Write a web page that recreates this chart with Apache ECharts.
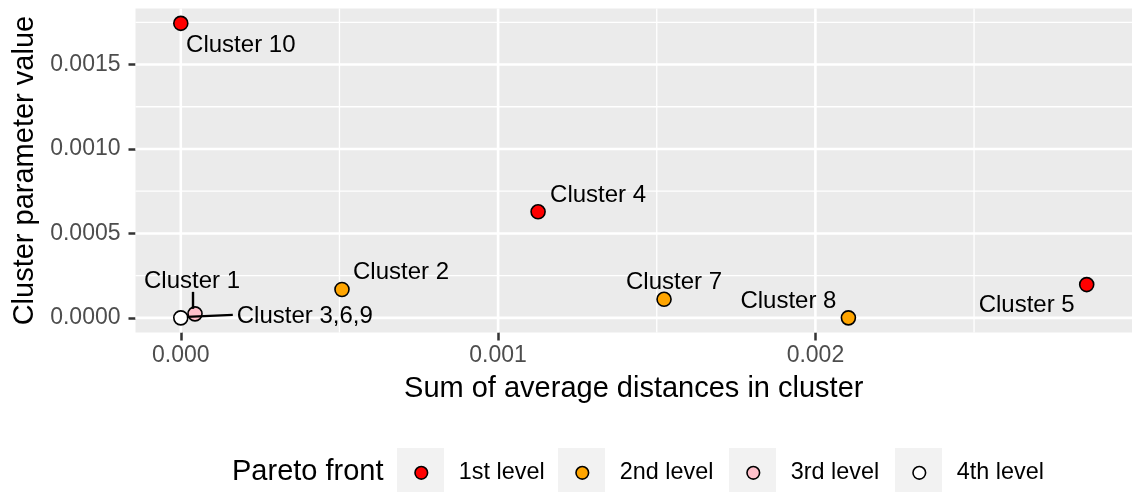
<!DOCTYPE html>
<html>
<head>
<meta charset="utf-8">
<script src="https://cdn.jsdelivr.net/npm/echarts@6/dist/echarts.min.js"></script>
<style>
html, body { margin: 0; padding: 0; background: #fff; }
#chart { width: 1132px; height: 492px; }
</style>
</head>
<body>
<div id="chart"></div>
<script>
// data
var clusterNames = ['Cluster 1', 'Cluster 2', 'Cluster 3,6,9', 'Cluster 4', 'Cluster 5', 'Cluster 7', 'Cluster 8', 'Cluster 10'];
var distSum = [0.0000448, 0.000508, 0, 0.001126, 0.002855, 0.001523, 0.002104, 0];
var paramValue = [0.0000237, 0.000168, 0, 0.000628, 0.000197, 0.000110, 0, 0.001744];
var paretoLevel = [3, 2, 4, 1, 1, 2, 2, 1];
var levelNames = ['1st level', '2nd level', '3rd level', '4th level'];

var xTicks = [0, 0.001, 0.002];
var xMinor = [0.0005, 0.0015, 0.0025];
var yTicks = [0, 0.0005, 0.0010, 0.0015];
var yMinor = [0.00025, 0.00075, 0.00125, 0.00175];

var levelColors = ['#FF0000', '#FFA500', '#FFC0CB', '#FFFFFF'];
var FONT = '"Liberation Sans", Arial, Helvetica, sans-serif';

// where each label sits relative to its point (px), as repel placed them
var labelOffset = {
	'Cluster 1': [-3, -32],
	'Cluster 2': [59, -17],
	'Cluster 3,6,9': [124, -1],
	'Cluster 4': [60, -16],
	'Cluster 5': [-60, 21],
	'Cluster 7': [10, -17],
	'Cluster 8': [-60, -16],
	'Cluster 10': [60, 22]
};
// repel segments: from/to offsets (px) around the point
var leaderOffset = {
	'Cluster 1': [[-2, -22], [-2, -5]],
	'Cluster 3,6,9': [[6, -1], [52, -3]]
};

// legend boxes (left edge of each grey key)
var legendLeft = [397, 558, 729, 895];

// ggplot style expansion: 5% each side
function expand(arr) {
	var lo = Math.min.apply(null, arr), hi = Math.max.apply(null, arr);
	var pad = (hi - lo) * 0.05;
	return [lo - pad, hi + pad];
}
var xLim = expand(distSum);
var yLim = expand(paramValue);

var series = [];

// panel grid lines, drawn through the axes
function gridSeries(values, vertical, width) {
	var d = [];
	for (var i = 0; i < values.length; i++) {
		d.push(vertical ? [values[i], yLim[0]] : [xLim[0], values[i]]);
	}
	return {
		type: 'custom',
		silent: true,
		z: 1,
		data: d,
		renderItem: function (params, api) {
			var p = api.coord([api.value(0), api.value(1)]);
			var cs = params.coordSys;
			var shape = vertical
				? {x1: p[0], y1: cs.y, x2: p[0], y2: cs.y + cs.height}
				: {x1: cs.x, y1: p[1], x2: cs.x + cs.width, y2: p[1]};
			return {type: 'line', shape: shape, style: {stroke: '#FFFFFF', lineWidth: width}};
		}
	};
}
series.push(gridSeries(xMinor, true, 1.3));
series.push(gridSeries(yMinor, false, 1.3));
series.push(gridSeries(xTicks, true, 2.6));
series.push(gridSeries(yTicks, false, 2.6));

for (var lv = 0; lv < levelNames.length; lv++) {
	var pts = [];
	for (var k = 0; k < clusterNames.length; k++) {
		if (paretoLevel[k] !== lv + 1) continue;
		pts.push({
			name: clusterNames[k],
			value: [distSum[k], paramValue[k]],
			label: {offset: labelOffset[clusterNames[k]]}
		});
	}
	series.push({
		name: levelNames[lv],
		type: 'scatter',
		z: 10,
		symbol: 'circle',
		symbolSize: 14,
		itemStyle: {color: levelColors[lv], borderColor: '#000', borderWidth: 1.6, opacity: 1},
		label: {
			show: true,
			position: 'inside',
			formatter: '{b}',
			color: '#000',
			fontSize: 24,
			fontFamily: FONT
		},
		data: pts
	});
}

// leader segments for the crowded labels
var leaderData = [];
for (var k = 0; k < clusterNames.length; k++) {
	if (leaderOffset[clusterNames[k]]) leaderData.push({name: clusterNames[k], value: [distSum[k], paramValue[k]]});
}
series.push({
	type: 'custom',
	silent: true,
	z: 12,
	data: leaderData,
	renderItem: function (params, api) {
		var p = api.coord([api.value(0), api.value(1)]);
		var off = leaderOffset[leaderData[params.dataIndex].name];
		return {
			type: 'line',
			shape: {x1: p[0] + off[0][0], y1: p[1] + off[0][1], x2: p[0] + off[1][0], y2: p[1] + off[1][1]},
			style: {stroke: '#000', lineWidth: 2.4}
		};
	}
});

// one legend per key so each grey box lines up with its dot
var dotIcon = 'path://M0 0M56 48M29.8 24A6.3 6.3 0 1 1 17.2 24A6.3 6.3 0 1 1 29.8 24Z';
var legends = [];
var boxes = [];
for (var lv = 0; lv < levelNames.length; lv++) {
	legends.push({
		data: [levelNames[lv]],
		left: legendLeft[lv],
		top: 448,
		itemWidth: 56,
		itemHeight: 48,
		padding: 0,
		icon: dotIcon,
		selectedMode: false,
		itemStyle: {borderColor: '#000', borderWidth: 1.6},
		textStyle: {fontSize: 23.4, color: '#000', fontFamily: FONT}
	});
	boxes.push({
		type: 'rect',
		left: legendLeft[lv],
		top: 448,
		z: -1,
		shape: {width: 47, height: 48},
		style: {fill: '#F2F2F2'}
	});
}
boxes.push({
	type: 'text',
	left: 232,
	top: 457,
	style: {text: 'Pareto front', fontSize: 29, fill: '#000', fontFamily: FONT}
});

var chart = echarts.init(document.getElementById('chart'));
chart.setOption({
	animation: false,
	backgroundColor: '#FFFFFF',
	grid: {
		left: 135.5,
		top: 8.6,
		width: 1002,
		height: 324,
		show: true,
		backgroundColor: '#EBEBEB',
		borderWidth: 0
	},
	xAxis: {
		type: 'value',
		position: 'bottom',
		min: xLim[0],
		max: xLim[1],
		name: 'Sum of average distances in cluster',
		nameLocation: 'middle',
		nameGap: 42,
		nameTextStyle: {fontSize: 29, color: '#000', fontFamily: FONT},
		axisLine: {show: false, onZero: false},
		axisTick: {show: true, inside: false, length: 8, customValues: xTicks, lineStyle: {color: '#333333', width: 2.5}},
		axisLabel: {
			customValues: xTicks,
			margin: 12,
			fontSize: 23,
			color: '#4D4D4D',
			fontFamily: FONT,
			formatter: function (v) { return v.toFixed(3); }
		},
		splitLine: {show: false}
	},
	yAxis: {
		type: 'value',
		min: yLim[0],
		max: yLim[1],
		name: 'Cluster parameter value',
		nameLocation: 'middle',
		nameGap: 96,
		nameTextStyle: {fontSize: 29, color: '#000', fontFamily: FONT},
		axisLine: {show: false, onZero: false},
		axisTick: {show: true, length: 7, customValues: yTicks, lineStyle: {color: '#333333', width: 2.5}},
		axisLabel: {
			customValues: yTicks,
			margin: 15,
			fontSize: 23,
			color: '#4D4D4D',
			fontFamily: FONT,
			formatter: function (v) { return v.toFixed(4); }
		},
		splitLine: {show: false}
	},
	legend: legends,
	graphic: boxes,
	series: series
});
</script>
</body>
</html>
